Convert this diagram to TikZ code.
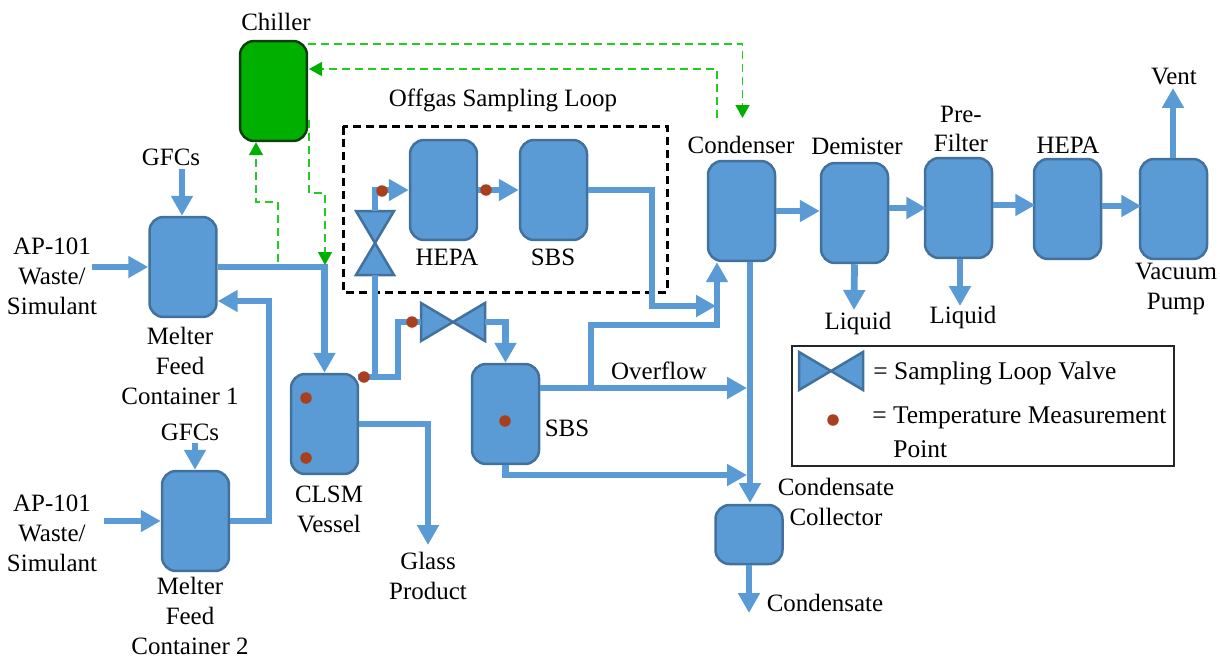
\documentclass[tikz,border=0pt]{standalone}
\usepackage{fontspec}
\setmainfont{Liberation Serif}
\usetikzlibrary{arrows.meta}
\definecolor{vesselblue}{HTML}{5B9BD5}
\definecolor{vesselline}{HTML}{41719C}
\definecolor{chillgreen}{HTML}{00B000}
\definecolor{chillline}{HTML}{0C3F0C}
\definecolor{coolgreen}{HTML}{22CC22}
\definecolor{tempred}{HTML}{A8401E}
\tikzset{
    vessel/.style={draw=vesselline,fill=vesselblue,line width=0.05cm,rounded corners=0.28cm,
        minimum width=1.34cm,minimum height=2cm,inner sep=0pt},
    pipe/.style={draw=vesselblue,line width=0.135cm,-{Triangle[width=0.42cm,length=0.4cm]}},
    coolant/.style={draw=coolgreen,line width=0.03cm,dash pattern=on 0.16cm off 0.1cm,
        -{Triangle[width=0.28cm,length=0.26cm,color=chillgreen]}},
    lbl/.style={align=center,inner sep=0pt,font=\fontsize{14.2}{17}\selectfont},
    keylbl/.style={lbl,anchor=west,font=\fontsize{14.5}{17}\selectfont},
    temp/.style={circle,fill=tempred,minimum size=0.23cm,inner sep=0pt},
    valve/.pic={
        \draw[draw=vesselline,fill=vesselblue,line width=0.05cm]
            (-32,-19) -- (32,19) -- (32,-19) -- (-32,19) -- cycle;
        \coordinate (-in) at (-32,0);
        \coordinate (-out) at (32,0);
    }
}
\begin{document}
\begin{tikzpicture}[x=0.02cm,y=-0.02cm]
    \useasboundingbox (0,0) rectangle (1220,659);
    \node[vessel,draw=chillline,fill=chillgreen] (chiller) at (273.5,91) {};
    \node[vessel] (mfcA) at (183,267) {};
    \node[vessel] (mfcB) at (195.5,521) {};
    \node[vessel] (clsm) at (324.5,424) {};
    \node[vessel] (hepaA) at (443.5,190) {};
    \node[vessel] (sbsA) at (553.5,190) {};
    \node[vessel] (sbsB) at (505.5,414) {};
    \node[vessel] (condenser) at (741.5,211) {};
    \node[vessel] (demister) at (854.5,213) {};
    \node[vessel] (prefilter) at (958.5,208) {};
    \node[vessel] (hepaB) at (1067.5,209) {};
    \node[vessel] (vacuum) at (1173.5,209) {};
    \node[vessel,minimum height=1.18cm] (collector) at (749,534.5) {};

    \node[lbl] (chillerlbl) at (276,22) {Chiller};
    \node[lbl] (looplbl) at (503,100) {Offgas Sampling Loop};
    \node[lbl] (hepaAlbl) at (447,257) {HEPA};
    \node[lbl] (sbsAlbl) at (553,257) {SBS};
    \node[lbl] (condenserlbl) at (741,145) {Condenser};
    \node[lbl] (demisterlbl) at (857,146) {Demister};
    \node[lbl] (prefilterlbl) at (961,129) {Pre-\\Filter};
    \node[lbl] (hepaBlbl) at (1068,145) {HEPA};
    \node[lbl] (ventlbl) at (1174,77) {Vent};
    \node[lbl] (vacuumlbl) at (1176,289) {Vacuum\\Pump};
    \node[lbl] (gfcAlbl) at (171,157) {GFCs};
    \node[lbl] (gfcBlbl) at (190,432) {GFCs};
    \node[lbl] (wasteAlbl) at (52,276) {AP-101\\Waste/\\Simulant};
    \node[lbl] (wasteBlbl) at (52,533) {AP-101\\Waste/\\Simulant};
    \node[lbl] (mfcAlbl) at (180,366) {Melter\\Feed\\Container 1};
    \node[lbl] (mfcBlbl) at (190,616) {Melter\\Feed\\Container 2};
    \node[lbl] (clsmlbl) at (329,509) {CLSM\\Vessel};
    \node[lbl] (glasslbl) at (428,576) {Glass\\Product};
    \node[lbl] (sbsBlbl) at (567,428) {SBS};
    \node[lbl] (overflowlbl) at (659,371) {Overflow};
    \node[lbl] (collectorlbl) at (836,502) {Condensate\\Collector};
    \node[lbl] (liquidAlbl) at (858,323) {Liquid};
    \node[lbl] (liquidBlbl) at (963,317) {Liquid};
    \node[lbl] (condensatelbl) at (825,603) {Condensate};

    \draw[black,line width=0.06cm,dash pattern=on 0.17cm off 0.09cm] (343,126) rectangle (667,292);

    \pic[rotate=90] (valveA) at (375,243) {valve};
    \pic (valveB) at (453,322) {valve};

    \coordinate (feedA) at (92,267);
    \coordinate (feedB) at (104,521);
    \coordinate (gfcA) at (182,169);
    \coordinate (gfcB) at (195,443);
    \coordinate (riser) at (269,301);
    \coordinate (clsmtap) at (358,377);
    \coordinate (elbowA) at (398,322);
    \coordinate (glass) at (428,545);
    \coordinate (loopback) at (652,306);
    \coordinate (loopend) at (716,306);
    \coordinate (branch) at (591,388);
    \coordinate (branchtop) at (717,325);
    \coordinate (overflow) at (747,388);
    \coordinate (drain) at (747,475);
    \coordinate (condout) at (750,262);
    \coordinate (collin) at (750,503);
    \coordinate (vent) at (1173,88);
    \coordinate (liquidA) at (854,310);
    \coordinate (liquidB) at (960,306);
    \coordinate (condensate) at (749,613);

    \draw[pipe] (feedA) -- (feedA -| mfcA.west);
    \draw[pipe] (feedB) -- (feedB -| mfcB.west);
    \draw[pipe] (gfcA) -- (gfcA |- mfcA.north);
    \draw[pipe] (gfcB) -- (gfcB |- mfcB.north);
    \draw[pipe] (mfcA.east) -| (clsm.north);
    \draw[pipe] (mfcB.east) -| (riser) -- (riser -| mfcA.east);
    \draw[pipe,-] (clsmtap) -| (valveA-in);
    \draw[pipe,-] (clsmtap) -| (elbowA) -- (valveB-in);
    \draw[pipe] (clsm.east) -| (glass);
    \draw[pipe] (valveA-out) |- (hepaA.west);
    \draw[pipe] (hepaA.east) -- (sbsA.west);
    \draw[pipe] (sbsA.east) -| (loopback) -- (loopend);
    \draw[pipe] (valveB-out) -| (sbsB.north);
    \draw[pipe] (overflow -| sbsB.east) -- (overflow);
    \draw[pipe] (branch) |- (branchtop) -- (branchtop |- condenser.south);
    \draw[pipe] (sbsB.south) |- (drain);
    \draw[pipe] (condout) -- (collin);
    \draw[pipe] (condenser.east) -- (demister.west |- condenser.east);
    \draw[pipe] (demister.east) ++(0,-5) -- ++(37,0);
    \draw[pipe] (prefilter.east) ++(0,-3) -- ++(42,0);
    \draw[pipe] (hepaB.east) ++(0,-3) -- ++(39,0);
    \draw[pipe] (vent |- vacuum.north) -- (vent);
    \draw[pipe] (demister.south) -- (liquidA);
    \draw[pipe] (liquidB |- prefilter.south) -- (liquidB);
    \draw[pipe] (collector.south) -- (condensate);

    \coordinate (coolA) at (308,44);
    \coordinate (coolB) at (309,69);
    \coordinate (condin) at (742.5,118);
    \coordinate (condreturn) at (717,118);
    \coordinate (chillerout) at (309,120);
    \coordinate (bendA) at (325,193);
    \coordinate (feedtip) at (325,265);
    \coordinate (feedtap) at (278,262);
    \coordinate (bendB) at (256,202);

    \draw[coolant] (coolA) -| (condin);
    \draw[coolant] (condreturn) |- (coolB);
    \draw[coolant] (chillerout) |- (bendA) -- (feedtip);
    \draw[coolant] (feedtap) |- (bendB) -- (bendB |- chiller.south);

    \node[temp] (tempA) at (382,191) {};
    \node[temp] (tempB) at (486,190) {};
    \node[temp] (tempC) at (412,322) {};
    \node[temp] (tempD) at (364,377) {};
    \node[temp] (tempE) at (306,398) {};
    \node[temp] (tempF) at (306,458) {};
    \node[temp] (tempG) at (505,421) {};

    \draw[black!85,line width=0.05cm] (792,346) rectangle (1174,466);
    \pic (valveC) at (831,371) {valve};
    \node[temp] (tempH) at (833,420) {};
    \node[keylbl] (valvelbl) at (873,373) {= Sampling Loop Valve};
    \node[keylbl] (templbl) at (872,418) {= Temperature Measurement};
    \node[keylbl] (pointlbl) at (893,449) {Point};
\end{tikzpicture}
\end{document}
